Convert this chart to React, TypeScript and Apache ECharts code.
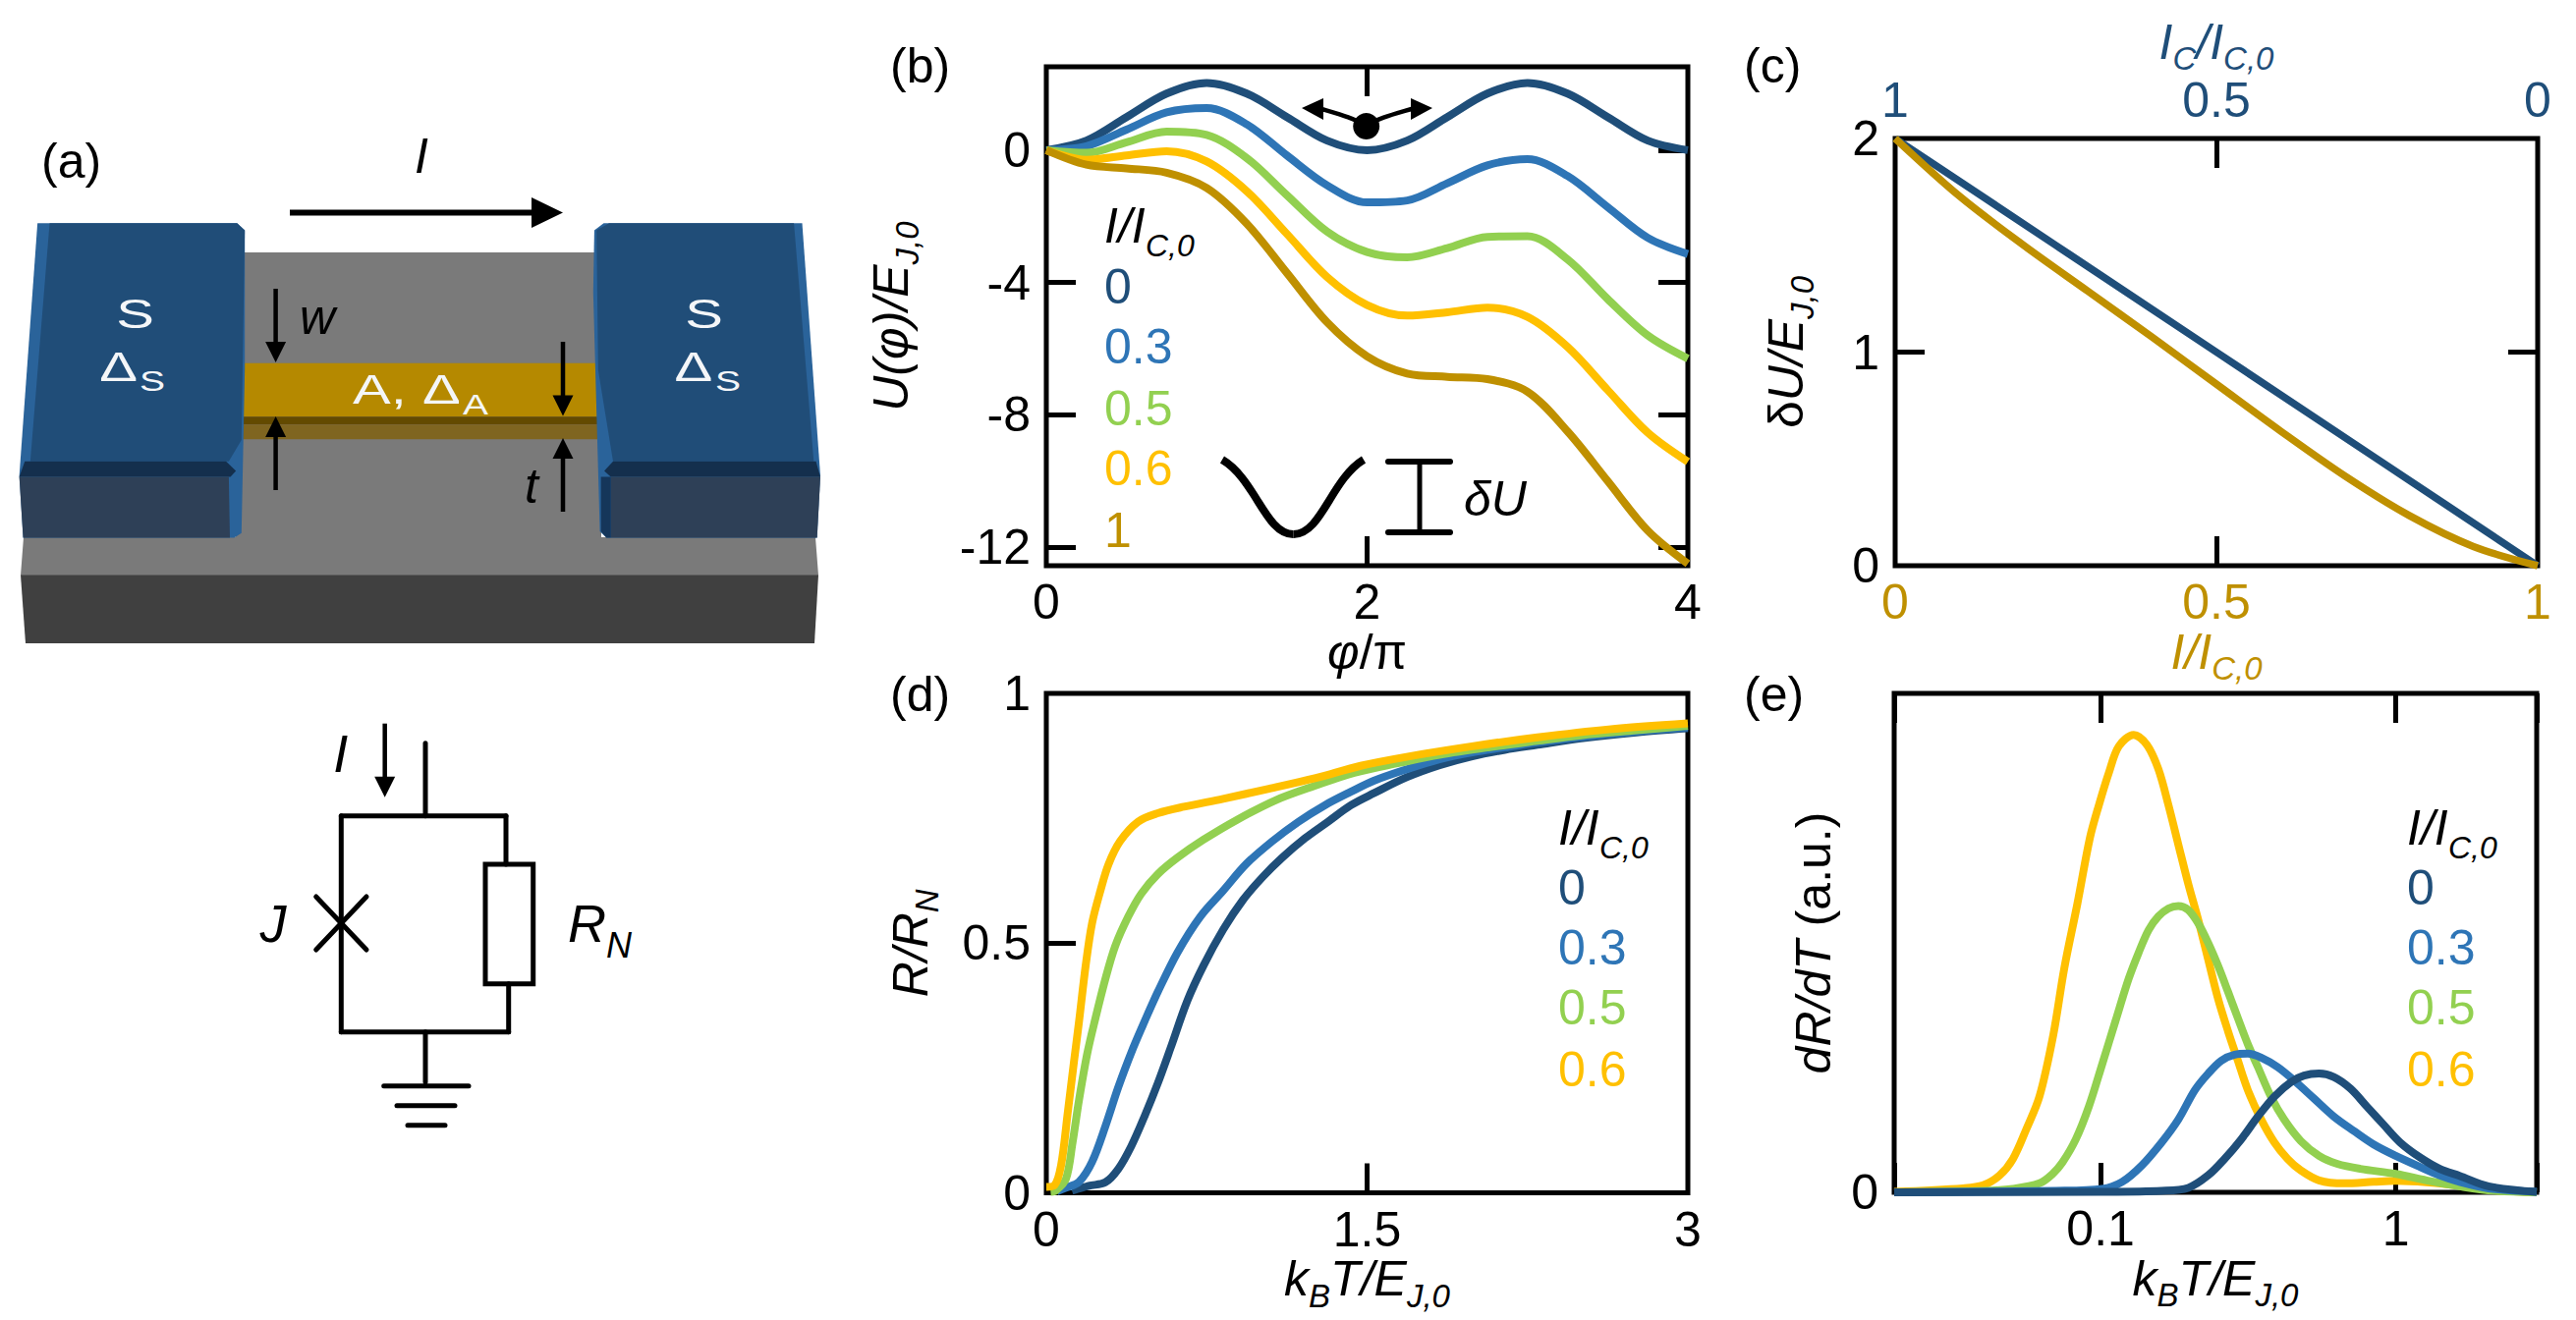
import React, { useEffect, useRef } from "react";
import * as echarts from "echarts";

const NAVY = "#1f4e79", BLUE = "#2e75b6", GREEN = "#92d050", YELLOW = "#ffc000", BROWN = "#bf9000";
const FONT = "Liberation Sans";

// (b) potential U(phi)/E_J,0
const phi = [0, 0.25, 0.5, 0.75, 1, 1.25, 1.5, 1.75, 2, 2.25, 2.5, 2.75, 3, 3.25, 3.5, 3.75, 4];
const uNavy = [0, 0.29, 1, 1.71, 2.03, 1.71, 1, 0.29, 0, 0.29, 1, 1.71, 2.03, 1.71, 1, 0.29, 0];
const uBlue = [0, 0.12, 0.62, 1.14, 1.27, 0.78, -0.16, -1.06, -1.58, -1.52, -1.0, -0.46, -0.27, -0.78, -1.72, -2.65, -3.14];
const uGreen = [0, -0.08, 0.24, 0.56, 0.46, -0.24, -1.36, -2.46, -3.08, -3.24, -2.96, -2.62, -2.6, -3.3, -4.5, -5.6, -6.3];
const uYellow = [0, -0.29, -0.16, -0.03, -0.34, -1.24, -2.53, -3.83, -4.68, -5.0, -4.9, -4.76, -5.04, -5.95, -7.25, -8.54, -9.42];
const uBrown = [0, -0.44, -0.55, -0.68, -1.14, -2.22, -3.71, -5.2, -6.23, -6.75, -6.85, -6.92, -7.3, -8.5, -10, -11.5, -12.5];

// (c) barrier height
const icTop = [1, 0.75, 0.5, 0.25, 0];
const duNavy = [2, 1.5, 1, 0.5, 0];
const iBottom = [0, 0.1, 0.2, 0.3, 0.4, 0.5, 0.6, 0.7, 0.8, 0.9, 1];
const duBrown = [2, 1.73, 1.5, 1.285, 1.07, 0.85, 0.63, 0.42, 0.235, 0.09, 0];

// (d) resistance vs temperature
const dNavyX = [0.12, 0.199, 0.276, 0.337, 0.398, 0.459, 0.521, 0.582, 0.658, 0.735, 0.827, 0.919, 1.011, 1.103, 1.21, 1.317, 1.424, 1.531, 1.685, 1.838, 1.991, 2.144, 2.297, 2.5, 2.76, 3];
const dNavyY = [0.004, 0.014, 0.021, 0.048, 0.094, 0.153, 0.219, 0.291, 0.383, 0.455, 0.527, 0.586, 0.632, 0.671, 0.71, 0.743, 0.776, 0.8, 0.832, 0.856, 0.874, 0.887, 0.897, 0.91, 0.922, 0.93];
const dBlueX = [0.05, 0.092, 0.153, 0.214, 0.276, 0.337, 0.406, 0.459, 0.521, 0.613, 0.72, 0.827, 0.934, 1.057, 1.179, 1.302, 1.424, 1.531, 1.685, 1.838, 1.991, 2.144, 2.297, 2.5, 2.76, 3];
const dBlueY = [0.003, 0.01, 0.022, 0.062, 0.133, 0.212, 0.29, 0.343, 0.402, 0.481, 0.553, 0.605, 0.658, 0.704, 0.743, 0.776, 0.803, 0.825, 0.848, 0.868, 0.882, 0.892, 0.902, 0.913, 0.924, 0.932];
const dGreenX = [0.02, 0.046, 0.092, 0.1225, 0.153, 0.191, 0.23, 0.276, 0.322, 0.383, 0.444, 0.521, 0.613, 0.735, 0.888, 1.072, 1.256, 1.44, 1.654, 1.838, 2.067, 2.297, 2.5, 2.76, 3];
const dGreenY = [0.002, 0.005, 0.028, 0.1, 0.186, 0.278, 0.35, 0.428, 0.494, 0.553, 0.599, 0.638, 0.671, 0.707, 0.746, 0.786, 0.815, 0.841, 0.861, 0.877, 0.892, 0.905, 0.916, 0.926, 0.935];
const dYellowX = [0, 0.038, 0.069, 0.1, 0.13, 0.153, 0.184, 0.214, 0.253, 0.291, 0.345, 0.429, 0.521, 0.643, 0.827, 1.041, 1.256, 1.47, 1.685, 1.991, 2.297, 2.63, 3];
const dYellowY = [0.012, 0.015, 0.055, 0.16, 0.265, 0.343, 0.455, 0.54, 0.605, 0.658, 0.704, 0.743, 0.76, 0.773, 0.789, 0.809, 0.83, 0.855, 0.873, 0.894, 0.912, 0.928, 0.94];

// (e) dR/dT vs temperature, arbitrary units
const eYellowX = [0.02, 0.0343, 0.04, 0.0455, 0.0505, 0.056, 0.0621, 0.0692, 0.0753, 0.0835, 0.092, 0.0987, 0.1067, 0.1153, 0.1295, 0.1435, 0.157, 0.1698, 0.1834, 0.1982, 0.2142, 0.2314, 0.25, 0.2702, 0.2918, 0.3153, 0.35, 0.388, 0.43, 0.4764, 0.5495, 0.6668, 0.8414, 1, 1.27, 1.644, 2.06, 3];
const eYellowY = [0.001, 0.008, 0.014, 0.034, 0.067, 0.126, 0.192, 0.316, 0.448, 0.579, 0.71, 0.776, 0.841, 0.894, 0.917, 0.897, 0.848, 0.776, 0.697, 0.618, 0.546, 0.467, 0.388, 0.323, 0.264, 0.205, 0.146, 0.1, 0.067, 0.044, 0.024, 0.018, 0.021, 0.023, 0.02, 0.013, 0.005, 0];
const eGreenX = [0.02, 0.04, 0.0505, 0.0621, 0.0688, 0.0743, 0.0824, 0.0913, 0.1013, 0.1123, 0.1245, 0.1345, 0.1455, 0.157, 0.1698, 0.1834, 0.1982, 0.2142, 0.2314, 0.25, 0.2702, 0.2918, 0.3153, 0.3412, 0.3776, 0.4185, 0.4764, 0.5495, 0.6333, 0.7586, 1, 1.27, 1.644, 2.06, 3];
const eGreenY = [0, 0.003, 0.007, 0.018, 0.037, 0.06, 0.106, 0.172, 0.257, 0.343, 0.428, 0.48, 0.526, 0.553, 0.569, 0.574, 0.566, 0.539, 0.5, 0.454, 0.402, 0.349, 0.297, 0.251, 0.192, 0.146, 0.103, 0.073, 0.057, 0.047, 0.037, 0.024, 0.012, 0.004, 0];
const eBlueX = [0.02, 0.0706, 0.1013, 0.1183, 0.138, 0.161, 0.1834, 0.2087, 0.2314, 0.2564, 0.2843, 0.3153, 0.35, 0.398, 0.4529, 0.5284, 0.6166, 0.721, 0.8414, 1, 1.207, 1.409, 1.644, 2.06, 3];
const eBlueY = [0, 0.003, 0.007, 0.021, 0.054, 0.1, 0.146, 0.205, 0.238, 0.264, 0.276, 0.278, 0.27, 0.251, 0.224, 0.188, 0.152, 0.123, 0.096, 0.073, 0.051, 0.034, 0.021, 0.008, 0.001];
const eNavyX = [0.02, 0.1, 0.161, 0.1982, 0.2314, 0.263, 0.2992, 0.3412, 0.388, 0.4416, 0.4887, 0.5495, 0.6166, 0.7015, 0.7977, 0.9075, 1.034, 1.207, 1.409, 1.644, 2.06, 3];
const eNavyY = [0, 0.001, 0.003, 0.009, 0.034, 0.067, 0.106, 0.152, 0.192, 0.221, 0.234, 0.238, 0.231, 0.208, 0.172, 0.136, 0.1, 0.07, 0.047, 0.033, 0.012, 0.001];

// legend and tick labels
const legendB = ["0", "0.3", "0.5", "0.6", "1"];
const legendD = ["0", "0.3", "0.5", "0.6"];
const ticksB_X = [0, 2, 4];
const ticksB_Y = [0, -4, -8, -12];
const ticksC_X = [0, 0.5, 1];
const ticksC_Y = [0, 1, 2];
const ticksD_X = [0, 1.5, 3];
const ticksD_Y = [0, 0.5, 1];

const zip = (xs: number[], ys: number[]) => xs.map((x, i) => [x, ys[i]]);

const richBase = (size: number, sub: number, drop: number, color = "#000") => ({
  i: { fontFamily: FONT, fontStyle: "italic", fontSize: size, color },
  n: { fontFamily: FONT, fontSize: size, color },
  s: { fontFamily: FONT, fontStyle: "italic", fontSize: sub, color, padding: [drop, 0, 0, 0] },
});

function axisPair(o: any) {
  const { gridIndex, pos, min, max, labels, tickVals, mirrorTicks, labelColor, topLabels, type, name, nameGap, nameColor, inverse, margin, rotate } = o;
  const isX = pos === "x";
  const base: any = { gridIndex, type: type || "value", min, max, splitLine: { show: false }, axisLine: { show: false, onZero: false } };
  const tick = { show: true, inside: true, length: 30, lineStyle: { color: "#000", width: 5 } };
  const main: any = {
    ...base,
    position: isX ? "bottom" : "left",
    axisTick: type === "log" ? tick : { ...tick, customValues: tickVals },
    axisLabel: {
      show: true,
      margin: margin ?? 12,
      fontFamily: FONT,
      fontSize: 50,
      color: labelColor || "#000",
      showMinLabel: true,
      showMaxLabel: true,
      hideOverlap: false,
      ...(type === "log"
        ? { formatter: (v: number) => (Math.abs(v - 0.1) < 1e-6 ? "0.1" : Math.abs(v - 1) < 1e-6 ? "1" : "") }
        : { customValues: labels }),
    },
    name,
    nameLocation: "middle",
    nameGap,
    nameRotate: rotate,
    nameTextStyle: { fontFamily: FONT, rich: richBase(50, 33, 34, nameColor || "#000") },
  };
  const second: any = {
    ...base,
    position: isX ? "top" : "right",
    inverse: !!inverse,
    axisTick: type === "log" ? tick : { ...tick, show: !!mirrorTicks, customValues: mirrorTicks || [] },
    axisLabel: topLabels
      ? { show: true, margin: 14, fontFamily: FONT, fontSize: 50, color: NAVY, customValues: topLabels, showMinLabel: true, showMaxLabel: true, hideOverlap: false }
      : { show: false },
  };
  if (o.secondName) {
    second.name = o.secondName;
    second.nameLocation = "middle";
    second.nameGap = o.secondGap;
    second.nameTextStyle = { fontFamily: FONT, rich: richBase(50, 33, 34, NAVY) };
  }
  return [main, second];
}

const line = (xi: number, yi: number, data: number[][], color: string, width = 8, smooth: number | boolean = 0.33, clip = true) => ({
  type: "line",
  xAxisIndex: xi,
  yAxisIndex: yi,
  data,
  showSymbol: false,
  symbol: "none",
  smooth,
  clip,
  lineStyle: { color, width, cap: "butt", join: "round" },
  silent: true,
});

// ---- drawing helpers for the illustration panels ----
const ill = (zx: number, zy: number) => [zx / 1.782, 100 + zy / 2.529];
const poly = (pts: number[][], fill: string) => ({ type: "polygon", shape: { points: pts.map((p) => ill(p[0], p[1])) }, style: { fill } });
const seg = (x1: number, y1: number, x2: number, y2: number, lineWidth = 5, cap = "round") => ({
  type: "line",
  shape: { x1, y1, x2, y2 },
  style: { stroke: "#000", lineWidth, lineCap: cap },
  z: 20,
});
const tri = (pts: number[][]) => ({ type: "polygon", shape: { points: pts }, style: { fill: "#000" }, z: 20 });
const vArrow = (x: number, from: number, to: number) => {
  const d = to > from ? 1 : -1;
  return [seg(x, from, x, to - d * 18, 4.5, "butt"), tri([[x, to], [x - 10.5, to - d * 21], [x + 10.5, to - d * 21]])];
};
const txt = (x: number, y: number, text: string, o: any = {}) => ({
  type: "text",
  x,
  y,
  z: 30,
  scaleX: o.scaleX ?? 1,
  style: {
    text,
    fontFamily: FONT,
    fontSize: o.size ?? 50,
    fontStyle: o.italic ? "italic" : "normal",
    fill: o.fill ?? "#000",
    align: o.align ?? "left",
    verticalAlign: "middle",
  },
});

function legend(x: number, titleY: number, ys: number[], items: string[], colors: string[]) {
  const out: any[] = [txt(x, titleY, "I/I", { italic: true }), txt(x + 42, titleY + 20, "C,0", { italic: true, size: 32 })];
  items.forEach((t, i) => out.push(txt(x, ys[i], t, { fill: colors[i] })));
  return out;
}

function deviceGraphics() {
  const white = "#f4f6f8";
  const lab = { size: 43, fill: white, align: "center", scaleX: 1.35 };
  const sub = { size: 30, fill: white, align: "center", scaleX: 1.3 };
  return [
    { type: "polygon", shape: { points: [[240, 257], [612, 257], [612, 547], [830, 547], [833, 586], [21, 586], [24, 547], [240, 547]] }, style: { fill: "#7a7a7a" } },
    { type: "polygon", shape: { points: [[21, 585.6], [833, 585.6], [829, 655], [26, 655]] }, style: { fill: "#404040" } },
    // active strip
    { type: "rect", shape: { x: 247, y: 369.7, width: 362, height: 54.5 }, style: { fill: "#b58900" } },
    { type: "rect", shape: { x: 247, y: 424.2, width: 362, height: 8 }, style: { fill: "#634a00" } },
    { type: "rect", shape: { x: 247, y: 432.2, width: 362, height: 15 }, style: { fill: "#7f6520" } },
    // left pad
    poly([[68, 322], [430, 322], [444, 340], [444, 700], [438, 1120], [425, 1132], [42, 1132], [35, 972]], "#2a639a"),
    poly([[90, 322], [430, 322], [444, 340], [440, 700], [438, 880], [415, 935], [55, 935]], "#204d78"),
    poly([[45, 935], [410, 935], [428, 960], [418, 975], [35, 975]], "#142f4d"),
    poly([[35, 975], [415, 975], [417, 1132], [42, 1132]], "#2e4057"),
    // right pad
    poly([[1095, 322], [1455, 322], [1488, 972], [1482, 1132], [1100, 1132], [1088, 1115], [1076, 500], [1078, 340]], "#2a639a"),
    poly([[1105, 322], [1440, 322], [1476, 935], [1112, 935], [1085, 700], [1082, 340]], "#204d78"),
    poly([[1112, 935], [1480, 935], [1488, 975], [1108, 975], [1096, 960]], "#142f4d"),
    poly([[1108, 975], [1488, 975], [1482, 1132], [1108, 1132]], "#2e4057"),
    poly([[1090, 975], [1108, 975], [1108, 1132], [1100, 1132], [1090, 1115]], "#15365a"),
    // labels on the device
    txt(137.5, 319.5, "S", lab),
    txt(120.6, 373, "Δ", lab),
    txt(155, 388, "S", sub),
    txt(716.6, 319.5, "S", lab),
    txt(706, 373, "Δ", lab),
    txt(741, 388, "S", sub),
    txt(359, 396, "A, Δ", { ...lab, align: "left" }),
    txt(484, 412, "A", sub),
    // current arrow and dimensions
    txt(429, 159, "I", { italic: true, size: 50, align: "center" }),
    seg(295, 216.6, 545, 216.6, 6, "butt"),
    tri([[573, 216.6], [541, 201], [541, 232]]),
    ...vArrow(280.6, 294, 369),
    ...vArrow(280.6, 499, 424),
    ...vArrow(573, 348, 423.5),
    ...vArrow(573, 521, 446),
    txt(323, 323, "w", { italic: true, size: 50, align: "center" }),
    txt(541, 495, "t", { italic: true, size: 50, align: "center" }),
    txt(42, 164, "(a)", { size: 50 }),
  ];
}

function circuitGraphics() {
  return [
    seg(347.3, 830.7, 515, 830.7),
    seg(347.3, 830.7, 347.3, 1050.7),
    seg(347.3, 1050.7, 517.7, 1050.7),
    seg(515, 830.7, 515, 880),
    seg(517.7, 1001.7, 517.7, 1050.7),
    seg(433, 756.7, 433, 830.7),
    { type: "rect", shape: { x: 494, y: 880, width: 48.7, height: 121.7 }, style: { fill: "none", stroke: "#000", lineWidth: 5 }, z: 20 },
    seg(321.7, 913, 373, 967),
    seg(373, 913, 321.7, 967),
    seg(433, 1050.7, 433, 1101.7),
    seg(390.7, 1105.7, 477, 1105.7),
    seg(404, 1125.7, 463, 1125.7),
    seg(415, 1145.7, 453, 1145.7),
    ...vArrow(391.7, 736.7, 811.7),
    txt(346.7, 766.7, "I", { italic: true, size: 54, align: "center" }),
    txt(278, 940, "J", { italic: true, size: 54, align: "center" }),
    txt(578, 940, "R", { italic: true, size: 54 }),
    txt(617, 962, "N", { italic: true, size: 36 }),
  ];
}

function insetGraphics() {
  const bez = (x1: number, y1: number, cx1: number, cy1: number, cx2: number, cy2: number, x2: number, y2: number, lw: number) => ({
    type: "bezierCurve",
    shape: { x1, y1, cpx1: cx1, cpy1: cy1, cpx2: cx2, cpy2: cy2, x2, y2 },
    style: { stroke: "#000", fill: "none", lineWidth: lw },
    z: 20,
  });
  return [
    { type: "circle", shape: { cx: 1390.7, cy: 128.6, r: 13.5 }, style: { fill: "#000" }, z: 20 },
    bez(1390, 128, 1378, 120, 1362, 116, 1342, 110, 4.5),
    bez(1391, 128, 1403, 120, 1420, 116, 1440, 110, 4.5),
    tri([[1325, 110], [1347, 100], [1347, 122]]),
    tri([[1458, 110], [1436, 100], [1436, 122]]),
    bez(1244, 468, 1278, 488, 1288, 544, 1316.5, 544, 8),
    bez(1316.5, 544, 1345, 544, 1355, 488, 1388, 468, 8),
    seg(1445, 470, 1445, 542, 5, "butt"),
    seg(1413, 470, 1476, 470, 6, "round"),
    seg(1413, 542, 1476, 542, 6, "round"),
    txt(1522, 508, "δU", { italic: true, align: "center" }),
  ];
}

export default function App() {
  const ref = useRef<HTMLDivElement>(null);
  useEffect(() => {
    document.body.style.margin = "0";
    const chart = echarts.init(ref.current!, undefined, { renderer: "svg" });
    const grids = [
      { left: 1065, top: 68, width: 653, height: 508 },
      { left: 1929, top: 141, width: 654, height: 435 },
      { left: 1065, top: 706, width: 653, height: 508.5 },
      { left: 1928, top: 706, width: 654, height: 508 },
    ].map((g) => ({ ...g, show: true, borderColor: "#000", borderWidth: 5, backgroundColor: "transparent", containLabel: false }));

    const xAxis = [
      ...axisPair({ gridIndex: 0, pos: "x", min: 0, max: 4, labels: ticksB_X, tickVals: [2], mirrorTicks: [2], name: "{i|φ}{n|/π}", nameGap: 56 }),
      ...axisPair({ gridIndex: 1, pos: "x", min: 0, max: 1, labels: ticksC_X, tickVals: [0.5], mirrorTicks: [0.5], labelColor: BROWN, name: "{i|I/I}{s|C,0}", nameGap: 48, nameColor: BROWN, inverse: true, topLabels: [1, 0.5, 0], secondName: "{i|I}{s|C}{i|/I}{s|C,0}", secondGap: 57 }),
      ...axisPair({ gridIndex: 2, pos: "x", min: 0, max: 3, labels: ticksD_X, tickVals: [1.5], name: "{i|k}{s|B}{i|T/E}{s|J,0}", nameGap: 48 }),
      ...axisPair({ gridIndex: 3, pos: "x", type: "log", min: 0.02, max: 3, name: "{i|k}{s|B}{i|T/E}{s|J,0}", nameGap: 48 }),
    ];
    const yAxis = [
      ...axisPair({ gridIndex: 0, pos: "y", min: -12.56, max: 2.52, labels: ticksB_Y, tickVals: ticksB_Y, mirrorTicks: ticksB_Y, name: "{i|U(φ)/E}{s|J,0}", nameGap: 125, margin: 16 }),
      ...axisPair({ gridIndex: 1, pos: "y", min: 0, max: 2, labels: ticksC_Y, tickVals: [1], mirrorTicks: [1], name: "{n|δ}{i|U/E}{s|J,0}", nameGap: 78, margin: 16 }),
      ...axisPair({ gridIndex: 2, pos: "y", min: 0, max: 1, labels: ticksD_Y, tickVals: [0.5], name: "{i|R/R}{s|N}", nameGap: 105, margin: 16 }),
      ...axisPair({ gridIndex: 3, pos: "y", min: 0, max: 1, labels: [0], tickVals: [], name: "{i|dR/dT}{n| (a.u.)}", nameGap: 57, margin: 16 }),
    ];

    const series = [
      line(0, 0, zip(phi, uNavy), NAVY),
      line(0, 0, zip(phi, uBlue), BLUE),
      line(0, 0, zip(phi, uGreen), GREEN),
      line(0, 0, zip(phi, uYellow), YELLOW),
      line(0, 0, zip(phi, uBrown), BROWN),
      line(3, 2, zip(icTop, duNavy), NAVY, 7.5, false, false),
      line(2, 2, zip(iBottom, duBrown), BROWN, 7.5, 0.33, false),
      line(4, 4, zip(dNavyX, dNavyY), NAVY),
      line(4, 4, zip(dBlueX, dBlueY), BLUE),
      line(4, 4, zip(dGreenX, dGreenY), GREEN),
      line(4, 4, zip(dYellowX, dYellowY), YELLOW),
      line(6, 6, zip(eYellowX, eYellowY), YELLOW),
      line(6, 6, zip(eGreenX, eGreenY), GREEN),
      line(6, 6, zip(eBlueX, eBlueY), BLUE),
      line(6, 6, zip(eNavyX, eNavyY), NAVY),
    ];

    const colors5 = [NAVY, BLUE, GREEN, YELLOW, BROWN];
    const graphicEls = [
      ...deviceGraphics(),
      ...circuitGraphics(),
      ...insetGraphics(),
      txt(906, 67, "(b)"),
      txt(1775, 67, "(c)"),
      txt(906, 707, "(d)"),
      txt(1775, 707, "(e)"),
      ...legend(1124, 230, [292, 353, 416, 477, 540], legendB, colors5),
      ...legend(1586, 843, [904, 964.6, 1026, 1089], legendD, colors5),
      ...legend(2450, 843, [904, 964.6, 1026, 1089], legendD, colors5),
    ];

    chart.setOption({
      animation: false,
      backgroundColor: "#fff",
      textStyle: { fontFamily: FONT },
      grid: grids,
      xAxis,
      yAxis,
      series,
      graphic: { elements: graphicEls },
    });
    return () => chart.dispose();
  }, []);
  return <div ref={ref} style={{ position: "absolute", left: 0, top: 0, width: 2622, height: 1344 }} />;
}
